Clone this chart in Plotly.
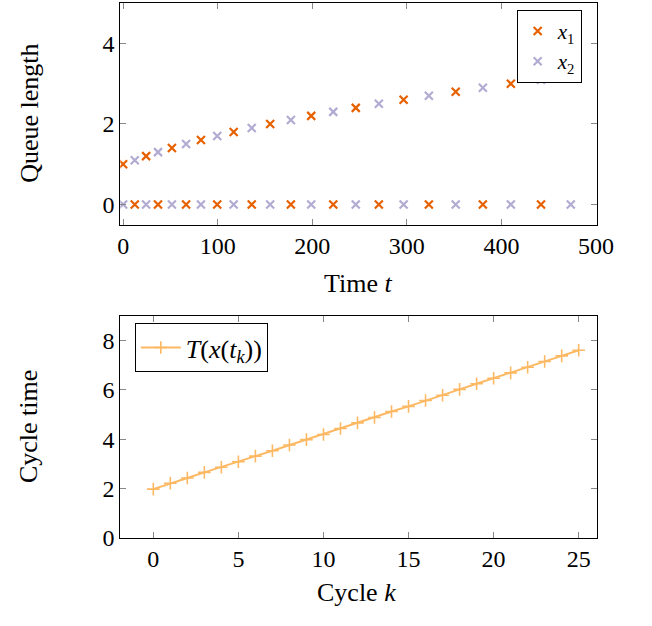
import plotly.graph_objects as go

# Top chart data
t_x1_high = [0, 24.3, 51.6, 82.3, 116.9, 155.5, 198.9, 246, 296.6, 351.7, 410, 473.4]
x1_high = [1.0, 1.2, 1.4, 1.6, 1.8, 2.0, 2.2, 2.4, 2.6, 2.8, 3.0, 3.2]
t_x2_high = [12.3, 36.9, 66.6, 99.5, 136, 177.4, 222.2, 270.4, 323.3, 380.4, 441.9]
x2_high = [1.1, 1.3, 1.5, 1.7, 1.9, 2.1, 2.3, 2.5, 2.7, 2.9, 3.1]

# x1 is zero at times when x2 is served, and vice versa
t_all = sorted(t_x1_high + t_x2_high)
x1_vals = [x1_high[t_x1_high.index(t)] if t in t_x1_high else 0 for t in t_all]
x2_vals = [x2_high[t_x2_high.index(t)] if t in t_x2_high else 0 for t in t_all]

# Bottom chart data
cycles = list(range(26))
cycle_time = [1.97, 2.21, 2.42, 2.65, 2.86, 3.08, 3.31, 3.53, 3.76, 3.98, 4.19, 4.43, 4.66,
              4.88, 5.12, 5.33, 5.57, 5.78, 6.02, 6.25, 6.47, 6.69, 6.92, 7.15, 7.38, 7.61]

ORANGE = "#e66101"
PURPLE = "#b2abd2"
LIGHTORANGE = "#fdb863"
FONT = "Liberation Serif"

fig = go.Figure()
fig.add_trace(go.Scatter(x=t_all, y=x1_vals, mode="markers", name="<i>x</i><sub>1</sub>",
                         marker=dict(symbol="x-thin", size=8, line=dict(color=ORANGE, width=2.2)),
                         xaxis="x", yaxis="y", legend="legend"))
fig.add_trace(go.Scatter(x=t_all, y=x2_vals, mode="markers", name="<i>x</i><sub>2</sub>",
                         marker=dict(symbol="x-thin", size=8, line=dict(color=PURPLE, width=2.2)),
                         xaxis="x", yaxis="y", legend="legend"))
fig.add_trace(go.Scatter(x=cycles, y=cycle_time, mode="lines+markers",
                         name="<i>T</i>(<i>x</i>(<i>t<sub>k</sub></i>))",
                         line=dict(color=LIGHTORANGE, width=2),
                         marker=dict(symbol="cross-thin", size=9, line=dict(color=LIGHTORANGE, width=1.6)),
                         xaxis="x2", yaxis="y2", legend="legend2"))

W, H = 652, 626


def px(x):
    return x / W


def py(y):
    return 1 - y / H


xd = [px(121), px(612.7)]
y1d = [py(229.3), py(3.3)]
y2d = [py(549), py(322.7)]

axis_common = dict(showgrid=False, zeroline=False, showline=True, linecolor="black", linewidth=1,
                   mirror="ticks", ticks="inside", ticklen=6, tickcolor="#888888", tickwidth=1,
                   tickfont=dict(family=FONT, size=24, color="black"))

ann = dict(xref="paper", yref="paper", showarrow=False, xanchor="center", yanchor="middle",
           font=dict(family=FONT, size=26, color="black"))

fig.update_layout(
    width=W, height=H, margin=dict(l=0, r=0, t=0, b=0),
    paper_bgcolor="white", plot_bgcolor="white",
    font=dict(family=FONT, size=24, color="black"),
    xaxis=dict(domain=xd, anchor="y", range=[-3, 501], tickvals=[0, 100, 200, 300, 400, 500], **axis_common),
    yaxis=dict(domain=y1d, anchor="x", range=[-0.5, 5], tickvals=[0, 2, 4], **axis_common),
    xaxis2=dict(domain=xd, anchor="y2", range=[-1.94, 26.07], tickvals=[0, 5, 10, 15, 20, 25], **axis_common),
    yaxis2=dict(domain=y2d, anchor="x2", range=[0, 9], tickvals=[0, 2, 4, 6, 8], **axis_common),
    legend=dict(x=px(597), y=py(10), xanchor="right", yanchor="top",
                bordercolor="black", borderwidth=1, bgcolor="white",
                font=dict(family=FONT, size=21), itemwidth=30, tracegroupgap=0),
    legend2=dict(x=px(136), y=py(330), xanchor="left", yanchor="top",
                 bordercolor="black", borderwidth=1, bgcolor="white",
                 font=dict(family=FONT, size=26), itemwidth=40),
    showlegend=True,
    annotations=[
        dict(text="Queue length", x=px(27), y=py(116), textangle=-90, **ann),
        dict(text="Time <i>t</i>", x=px(366.5), y=py(290), **ann),
        dict(text="Cycle time", x=px(27), y=py(436), textangle=-90, **ann),
        dict(text="Cycle <i>k</i>", x=px(365), y=py(605), **ann),
    ],
)

fig.write_html("out.html")
